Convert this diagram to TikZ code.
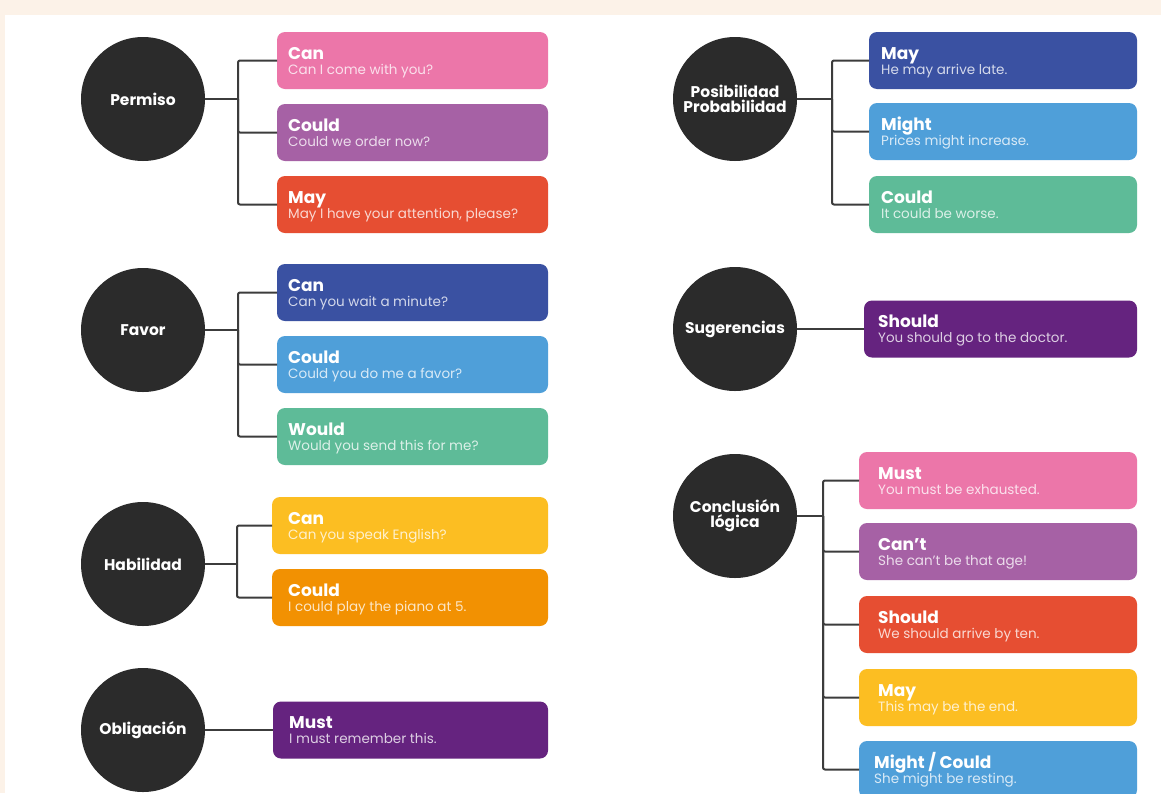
\documentclass[tikz,border=0pt]{standalone}
\usepackage{fontspec}
\setmainfont{Poppins}
\usetikzlibrary{calc}
\definecolor{cpeach}{HTML}{FCF2E8}
\definecolor{cpink}{HTML}{EC76A9}
\definecolor{cpurple}{HTML}{A661A5}
\definecolor{cred}{HTML}{E64E32}
\definecolor{cdblue}{HTML}{3A51A2}
\definecolor{clblue}{HTML}{4F9FD9}
\definecolor{cgreen}{HTML}{5EBB98}
\definecolor{cyellow}{HTML}{FCBE22}
\definecolor{corange}{HTML}{F29102}
\definecolor{cviolet}{HTML}{65237F}
\definecolor{ccircle}{HTML}{2B2B2B}
\definecolor{cline}{HTML}{3C3C3C}
\newcommand\tx{11}
\newcommand\modalbx[7]{%
  \node[mbox, fill=#5, minimum width={(#4-#2)*1pt}] (#1) at ({(#2+#4)/2},{#3+28.5}) {};
  \node[mtitle] (#1t) at ($(#1.north west)+(\tx,27)$) {#6};
  \node[msub] (#1s) at ($(#1.north west)+(\tx,42)$) {#7};
}
\begin{document}
\begin{tikzpicture}[x=1pt,y=-1pt,
  mbox/.style={rectangle, rounded corners=8pt, draw=none, minimum height=57pt, inner sep=0pt, outer sep=0pt},
  mtitle/.style={anchor=base west, inner sep=0pt, text=white, font=\fontsize{17}{20}\selectfont\bfseries},
  msub/.style={anchor=base west, inner sep=0pt, text=white, text opacity=0.78, font=\fontsize{13.5}{15}\selectfont},
  topic/.style={circle, fill=ccircle, minimum size=124pt, inner sep=0pt, outer sep=0pt, text=white, align=center, font=\fontsize{15.5}{17}\selectfont\bfseries},
  conn/.style={draw=cline, line width=2pt, rounded corners=2pt}]
\useasboundingbox (0,0) rectangle (1161,793);
\fill[cpeach] (0,0) rectangle (1161,793);
\fill[white] (5,15) rectangle (1161,793);

% ---------- left column ----------
\node[topic] (perm) at (143,99) {Permiso};
\renewcommand\tx{11}
\modalbx{p1}{277}{32}{548}{cpink}{Can}{Can I come with you?}
\modalbx{p2}{277}{104}{548}{cpurple}{Could}{Could we order now?}
\modalbx{p3}{277}{176}{548}{cred}{May}{May I have your attention, please?}
\coordinate (pj) at (238,99);
\draw[conn] (perm.east) -- (pj);
\draw[conn] (pj) |- (p1.west);
\draw[conn] (pj) |- (p2.west);
\draw[conn] (pj) |- (p3.west);

\node[topic] (fav) at (143,330) {Favor};
\modalbx{f1}{277}{264}{548}{cdblue}{Can}{Can you wait a minute?}
\modalbx{f2}{277}{336}{548}{clblue}{Could}{Could you do me a favor?}
\modalbx{f3}{277}{408}{548}{cgreen}{Would}{Would you send this for me?}
\coordinate (fj) at (238,330);
\draw[conn] (fav.east) -- (fj);
\draw[conn] (fj) |- (f1.west);
\draw[conn] (fj) |- (f2.west);
\draw[conn] (fj) |- (f3.west);

\node[topic] (hab) at (143,564) {Habilidad};
\renewcommand\tx{16}
\modalbx{h1}{272}{497}{548}{cyellow}{Can}{Can you speak English?}
\modalbx{h2}{272}{569}{548}{corange}{Could}{I could play the piano at 5.}
\coordinate (hj) at (237,564);
\draw[conn] (hab.east) -- (hj);
\draw[conn] (hj) |- (h1.west);
\draw[conn] (hj) |- (h2.west);

\node[topic] (obl) at (143,730) {Obligación};
\modalbx{o1}{273}{701.5}{548}{cviolet}{Must}{I must remember this.}
\draw[conn] (obl.east) -- (o1.west);

% ---------- right column ----------
\node[topic] (pos) at (735,99) {Posibilidad\\[-2pt]Probabilidad};
\renewcommand\tx{12}
\modalbx{q1}{869}{32}{1137}{cdblue}{May}{He may arrive late.}
\modalbx{q2}{869}{103}{1137}{clblue}{Might}{Prices might increase.}
\modalbx{q3}{869}{176}{1137}{cgreen}{Could}{It could be worse.}
\coordinate (qj) at (832,99);
\draw[conn] (pos.east) -- (qj);
\draw[conn] (qj) |- (q1.west);
\draw[conn] (qj) |- (q2.west);
\draw[conn] (qj) |- (q3.west);

\node[topic] (sug) at (735,329) {Sugerencias};
\renewcommand\tx{14}
\modalbx{s1}{864}{300.5}{1137}{cviolet}{Should}{You should go to the doctor.}
\draw[conn] (sug.east) -- (s1.west);

\node[topic] (con) at (735,516) {Conclusión\\[-2pt]lógica};
\renewcommand\tx{19}
\modalbx{c1}{859}{452}{1137}{cpink}{Must}{You must be exhausted.}
\modalbx{c2}{859}{523}{1137}{cpurple}{Can’t}{She can’t be that age!}
\modalbx{c3}{859}{596}{1137}{cred}{Should}{We should arrive by ten.}
\modalbx{c4}{859}{669}{1137}{cyellow}{May}{This may be the end.}
\renewcommand\tx{15}
\modalbx{c5}{859}{741}{1137}{clblue}{Might / Could}{She might be resting.}
\coordinate (cj) at (823,516);
\draw[conn] (con.east) -- (cj);
\draw[conn] (cj) |- (c1.west);
\draw[conn] (cj) |- (c2.west);
\draw[conn] (cj) |- (c3.west);
\draw[conn] (cj) |- (c4.west);
\draw[conn] (cj) |- (c5.west);
\end{tikzpicture}
\end{document}
